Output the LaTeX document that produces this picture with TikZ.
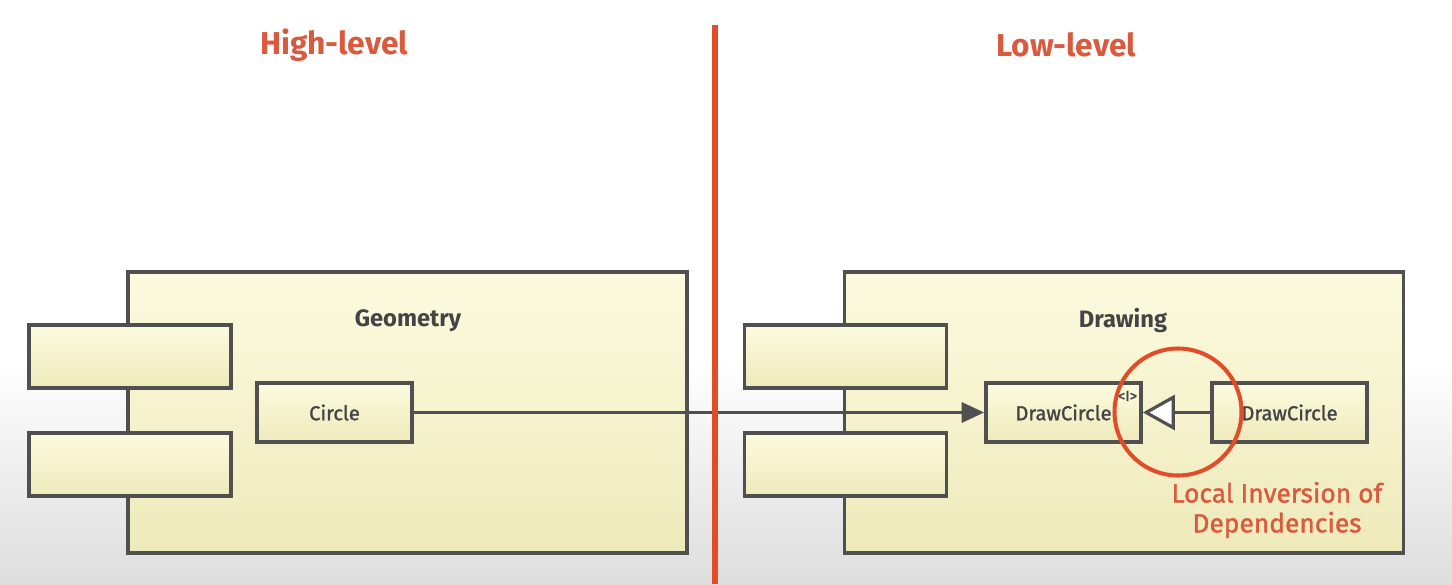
\documentclass[tikz,border=0pt]{standalone}
\usepackage{fontspec}
\setmainfont{Fira Sans}
\newfontfamily\heavyfont[FakeBold=1.3]{Fira Sans}
\usepackage{tikz}
\usetikzlibrary{arrows.meta}
\definecolor{slidered}{HTML}{E14D28}
\definecolor{labelred}{HTML}{D95A3C}
\definecolor{umlgray}{HTML}{505050}
\definecolor{umltop}{HTML}{FCFBDF}
\definecolor{umlbottom}{HTML}{EEEABB}
\tikzset{
  umlshape/.style={draw=umlgray, line width=2.1pt, top color=umltop, bottom color=umlbottom, inner sep=0pt},
  umltext/.style={text=umlgray!85!black},
}
\newcommand{\umlpackage}[2] {\node at (#1) (#2) [umlshape, minimum width=11.18cm, minimum height=5.62cm] {};}
\newcommand{\umltab}[2] {\node at (#1) (#2) [umlshape, minimum width=4.04cm, minimum height=1.26cm] {};}
\newcommand{\umlclass}[3] {\node at (#1) (#2) [umlshape, umltext, minimum width=3.1cm, minimum height=1.18cm] {\heavyfont\fontsize{11.5}{13}\selectfont #3};}
\newcommand{\umluse}[2] {\draw [umlgray, line width=1.8pt, -{Triangle[length=4.5mm,width=4mm]}] (#1) -- (#2);}
\newcommand{\umlrealize}[2] {\draw [umlgray, line width=1.8pt, -{Triangle[open,fill=white,length=6.4mm,width=7mm,line width=1.8pt]}] (#1) -- (#2);}

\begin{document}
\begin{tikzpicture}
\useasboundingbox (0,0) rectangle (29.04,11.68);
\fill [white] (0,4.5) rectangle (29.04,11.68);
\shade [top color=white, bottom color=black!13] (0,0) rectangle (29.04,4.5);

\umlpackage {8.15,3.43} {geometry};
\umltab {2.6,4.55} {gtab1};
\umltab {2.6,2.39} {gtab2};
\node at (8.16,5.26) (geometrylabel) [umltext, font=\bfseries\fontsize{13.5}{15}\selectfont] {Geometry};
\umlclass {6.69,3.43} {circle} {Circle};

\umlpackage {22.48,3.43} {drawing};
\umltab {16.91,4.55} {dtab1};
\umltab {16.91,2.39} {dtab2};
\node at (22.46,5.26) (drawinglabel) [umltext, font=\bfseries\fontsize{13.5}{15}\selectfont] {Drawing};
\umlclass {21.27,3.43} {drawcircle} {DrawCircle};
\umlclass {25.79,3.43} {drawcircleimpl} {DrawCircle};
\node at (22.55,3.76) (iface) [umltext, inner sep=0pt, font=\heavyfont\fontsize{8.5}{9}\selectfont] {<I>};

\umluse{circle}{drawcircle};
\umlrealize{drawcircleimpl}{drawcircle};

\coordinate (divtop) at (14.3,11.18);
\coordinate (divbottom) at (14.3,0);
\draw [slidered, line width=3.2pt] (divtop) -- (divbottom);
\node at (6.68,10.78) (highlevel) [text=labelred, font=\bfseries\fontsize{18}{20}\selectfont] {High-level};
\node at (21.32,10.78) (lowlevel) [text=labelred, font=\bfseries\fontsize{18}{20}\selectfont] {Low-level};

\draw [slidered, line width=2.3pt] (23.56,3.44) circle [radius=1.27];
\node at (25.54,1.48) (inversion) [text=labelred, align=center, font=\heavyfont\fontsize{15}{17}\selectfont] {Local Inversion of\\Dependencies};
\end{tikzpicture}
\end{document}
